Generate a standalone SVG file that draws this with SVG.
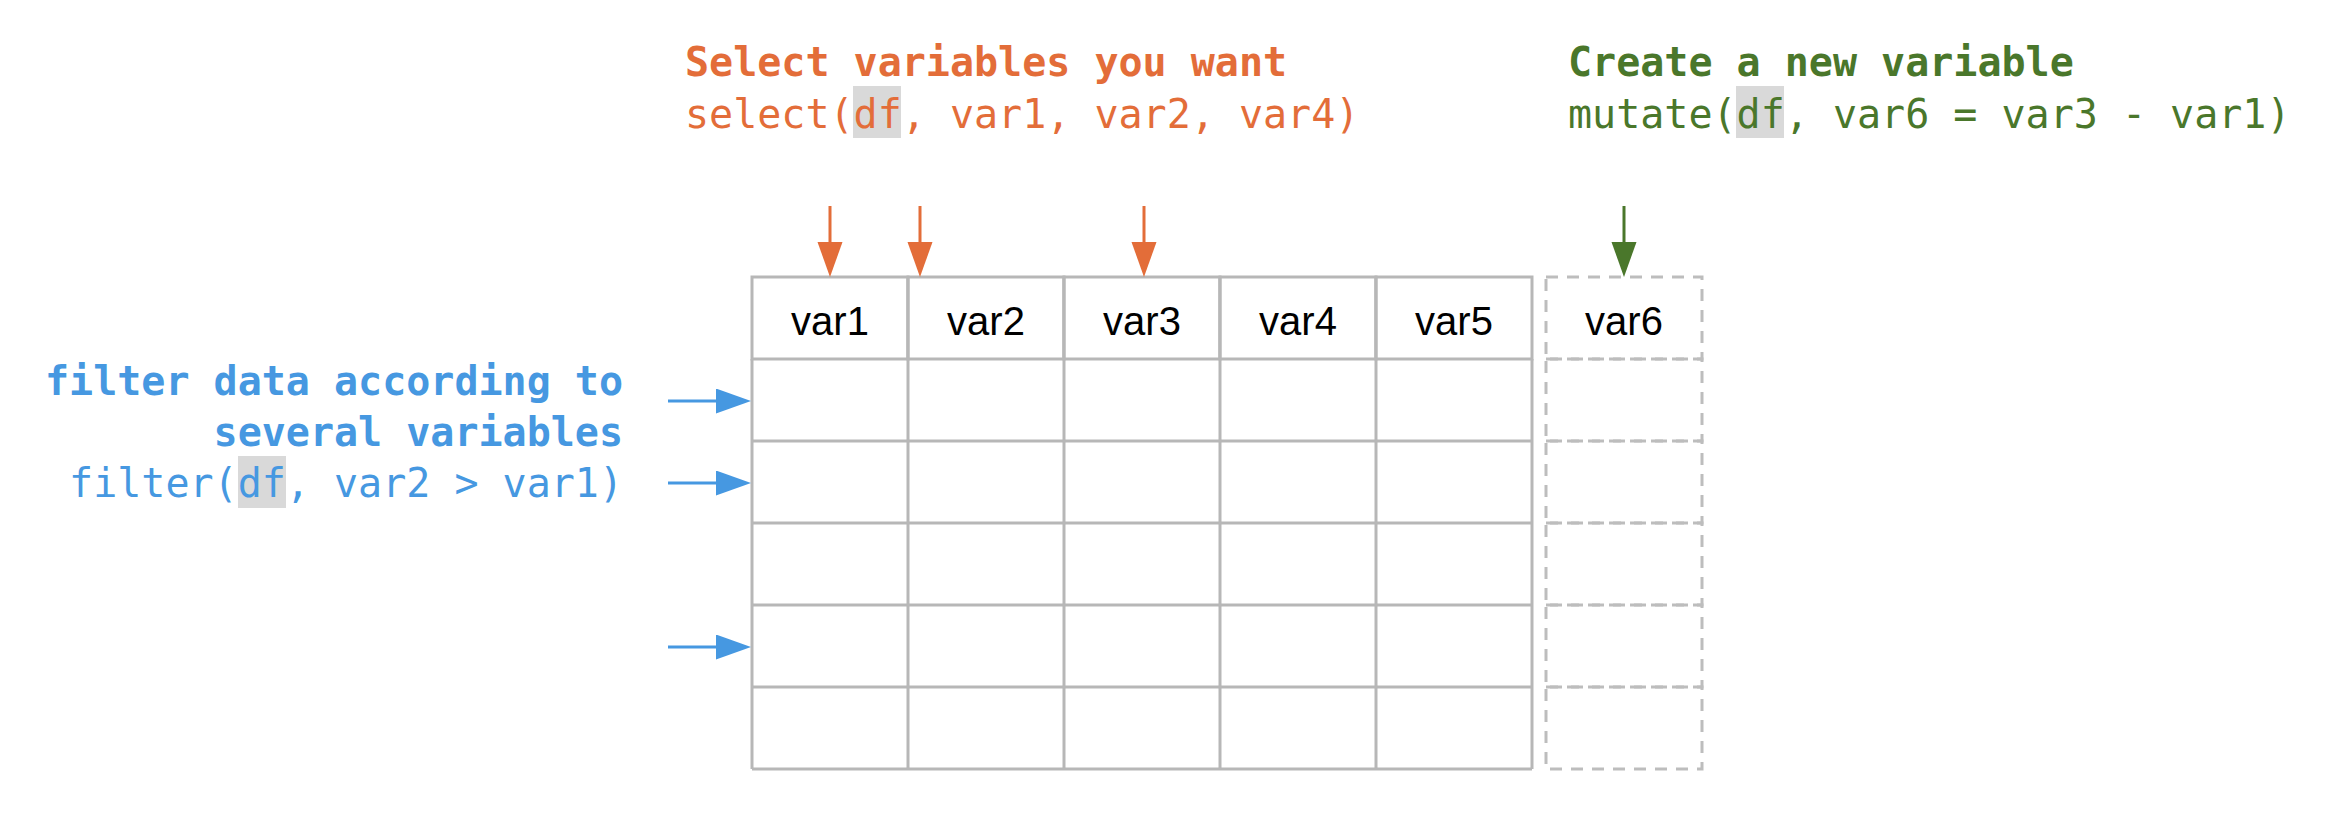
<svg xmlns="http://www.w3.org/2000/svg" width="2338" height="832" viewBox="0 0 2338 832">
<defs>
<style>
.mono{font-family:"DejaVu Sans Mono","Liberation Mono",monospace;font-size:40px}
.b{font-weight:bold}
.or{fill:#e36d39}
.gr{fill:#4a772b}
.bl{fill:#4698e1}
.hl{fill:#d9d9d9}
.cell{fill:#ffffff;stroke:#b7b7b7;stroke-width:3}
.dcell{fill:none;stroke:#bdbdbd;stroke-width:3;stroke-dasharray:12 9}
.hdr{font-family:"Liberation Sans",Arial,sans-serif;font-size:40px;fill:#000;text-anchor:middle}
.ao{stroke:#e36d39;stroke-width:3;fill:none}
.ag{stroke:#4a772b;stroke-width:3;fill:none}
.ab{stroke:#4698e1;stroke-width:3;fill:none}
</style>
<marker id="mo" markerUnits="userSpaceOnUse" markerWidth="36" markerHeight="26" refX="0" refY="12.5" orient="auto"><path d="M0,0 L35,12.5 L0,25 z" fill="#e36d39"/></marker>
<marker id="mg" markerUnits="userSpaceOnUse" markerWidth="36" markerHeight="26" refX="0" refY="12.5" orient="auto"><path d="M0,0 L35,12.5 L0,25 z" fill="#4a772b"/></marker>
<marker id="mb" markerUnits="userSpaceOnUse" markerWidth="36" markerHeight="26" refX="0" refY="12.5" orient="auto"><path d="M0,0 L35,12.5 L0,25 z" fill="#4698e1"/></marker>
</defs>
<rect width="2338" height="832" fill="#ffffff"/>

<g id="select-label">
<rect class="hl" x="853" y="86" width="48" height="52"/>
<text class="mono b or" x="685" y="76">Select variables you want</text>
<text class="mono or" x="685" y="128">select(df, var1, var2, var4)</text>
</g>

<g id="mutate-label">
<rect class="hl" x="1736" y="86" width="48" height="52"/>
<text class="mono b gr" x="1568" y="76">Create a new variable</text>
<text class="mono gr" x="1568" y="128">mutate(df, var6 = var3 - var1)</text>
</g>

<g id="filter-label">
<rect class="hl" x="238" y="456" width="48" height="52"/>
<text class="mono b bl" x="623" y="395" text-anchor="end">filter data according to</text>
<text class="mono b bl" x="623" y="446" text-anchor="end">several variables</text>
<text class="mono bl" x="623" y="497" text-anchor="end">filter(df, var2 &gt; var1)</text>
</g>

<g id="table">
<g id="cells">
<rect class="cell" x="752" y="277" width="156" height="82"/>
<rect class="cell" x="908" y="277" width="156" height="82"/>
<rect class="cell" x="1064" y="277" width="156" height="82"/>
<rect class="cell" x="1220" y="277" width="156" height="82"/>
<rect class="cell" x="1376" y="277" width="156" height="82"/>
<path d="M752,359 V769 M908,277 V769 M1064,277 V769 M1220,277 V769 M1376,277 V769 M1532,359 V769 M752,441 H1532 M752,523 H1532 M752,605 H1532 M752,687 H1532 M752,769 H1532" fill="none" stroke="#b7b7b7" stroke-width="3"/>
</g>
<text class="hdr" x="830" y="335">var1</text>
<text class="hdr" x="986" y="335">var2</text>
<text class="hdr" x="1142" y="335">var3</text>
<text class="hdr" x="1298" y="335">var4</text>
<text class="hdr" x="1454" y="335">var5</text>
</g>

<g id="new-column">
<rect class="dcell" x="1546" y="277" width="156" height="82"/>
<rect class="dcell" x="1546" y="359" width="156" height="82"/>
<rect class="dcell" x="1546" y="441" width="156" height="82"/>
<rect class="dcell" x="1546" y="523" width="156" height="82"/>
<rect class="dcell" x="1546" y="605" width="156" height="82"/>
<rect class="dcell" x="1546" y="687" width="156" height="82"/>
<text class="hdr" x="1624" y="335">var6</text>
</g>

<g id="connectors">
<line class="ao" x1="830" y1="206" x2="830" y2="242" marker-end="url(#mo)"/>
<line class="ao" x1="920" y1="206" x2="920" y2="242" marker-end="url(#mo)"/>
<line class="ao" x1="1144" y1="206" x2="1144" y2="242" marker-end="url(#mo)"/>
<line class="ag" x1="1624" y1="206" x2="1624" y2="242" marker-end="url(#mg)"/>
<line class="ab" x1="668" y1="401" x2="716" y2="401" marker-end="url(#mb)"/>
<line class="ab" x1="668" y1="483" x2="716" y2="483" marker-end="url(#mb)"/>
<line class="ab" x1="668" y1="647" x2="716" y2="647" marker-end="url(#mb)"/>
</g>
</svg>
